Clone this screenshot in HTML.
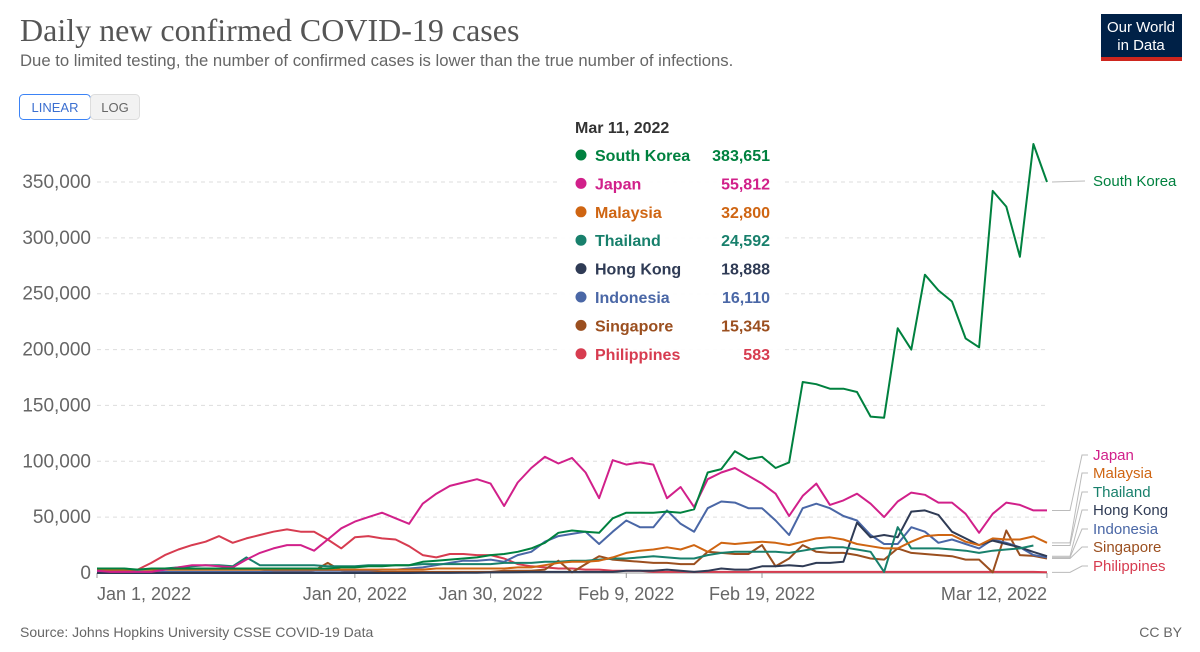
<!DOCTYPE html>
<html><head><meta charset="utf-8"><style>
body{margin:0;background:#fff;width:1200px;height:647px;overflow:hidden;font-family:"Liberation Sans",sans-serif}
svg text{font-family:"Liberation Sans",sans-serif}
</style></head><body>
<svg id="chart" width="1200" height="647" xmlns="http://www.w3.org/2000/svg">
<text x="20" y="41" style="font-family:'Liberation Serif',serif" font-size="32" fill="#555">Daily new confirmed COVID-19 cases</text>
<text x="20" y="66" font-size="16.7" fill="#666">Due to limited testing, the number of confirmed cases is lower than the true number of infections.</text>
<g>
<rect x="1101" y="14" width="81" height="47" fill="#002147"/><rect x="1101" y="57" width="81" height="4" fill="#ce261e"/>
<text x="1141" y="32" font-size="15" fill="#fff" text-anchor="middle">Our World</text>
<text x="1141" y="50" font-size="15" fill="#fff" text-anchor="middle">in Data</text></g>
<g><rect x="19.5" y="94.5" width="71" height="25" rx="4" fill="#fff" stroke="#3b83f6"/><text x="55" y="112" font-size="13" fill="#3b6fd0" text-anchor="middle">LINEAR</text></g>
<g><rect x="90.5" y="94.5" width="49" height="25" rx="4" fill="#f2f2f2" stroke="#ddd"/><text x="115" y="112" font-size="13" fill="#666" text-anchor="middle">LOG</text></g>
<g id="grid"></g><g id="series"></g><g id="labels"></g>
<g id="tip"><rect x="560" y="108" width="222" height="262" fill="#fff" opacity="0.92"/></g>
<text x="20" y="637" font-size="14" fill="#666">Source: Johns Hopkins University CSSE COVID-19 Data</text>
<text x="1182" y="637" font-size="14" fill="#666" text-anchor="end">CC BY</text>
</svg>
<script>
const yTicks=[0,50000,100000,150000,200000,250000,300000,350000];
const xTickDays=[0,19,29,39,49,70];
const xTickLabels=["Jan 1, 2022","Jan 20, 2022","Jan 30, 2022","Feb 9, 2022","Feb 19, 2022","Mar 12, 2022"];
const southKorea=[4,4,4,3,4,4,4,4,4,4,4,4,4,4,4,4,4,4,5,5,6,6,7,7,10,11,12,13,14,16,17,19,22,27,36,38,37,36,49,54,54,54,55,54,57,90,93,109,102,104,94,99,171,169,165,165,162,140,139,219,200,267,253,243,210,202,342,328,283,384,350];
const japan=[2,1,1,1,1,3,5,7,7,6,5,12,18,22,25,25,20,30,40,46,50,54,49,44,62,71,78,81,84,80,60,81,94,104,98,103,90,67,101,97,99,97,67,77,59,84,90,94,87,80,71,51,69,80,61,65,71,62,50,64,72,70,63,63,53,36,53,63,61,56,56];
const malaysia=[3,3,3,3,3,3,3,3,3,3,3,3,3,3,3,3,3,3,3,3,3,3,3,3,3,4,4,4,4,4,4,5,5,7,9,10,10,11,14,18,20,21,23,21,25,19,27,26,27,28,27,25,28,31,32,30,26,24,22,22,28,33,34,34,28,25,31,30,30,32.8,27];
const thailand=[3,3,3,3,3,4,5,6,7,7,6,14,7,7,7,7,7,6,6,6,7,7,7,7,8,8,8,8,8,8,9,9,9,10,10,11,11,12,13,13,14,15,14,13,13,16,18,19,19,19,19,18,20,22,23,23,21,19,1,41,22,22,22,21,20,18,20,21,22,24.6,null];
const hongKong=[0,0,0,0,0,0,0,0,0,0,0,0,0,0,0,0,0,0,0,0,0,0,0,0,0.1,0.1,0.1,0.2,0.3,0.5,0.6,0.8,1,1,1,1,1,1,1,2,2,2,3,2,1,2,4,3,3,6,6,7,6,9,9,10,45,32,34,32,55,56,52,37,31,25,29,26,23,18.9,15];
const indonesia=[1,1,1,1,1,1,1,1,1,1,1,1,1,2,2,2,2,2,2,2,2,3,3,4,5,7,9,11,11,12,10,16,19,28,33,35,37,26,37,47,41,41,56,44,37,58,64,63,58,58,47,34,58,62,58,51,47,34,26,26,41,37,27,30,26,22,30,27,23,16.1,14];
const singapore=[1,1,1,1,1,1,1,1,1,1,1,1,1,1,1,1,2,9,2,1,1,1,1,1,1,1,1,1,1,1,2,2,2,3,11,0.5,8,15,12,11,10,9,9,8,8,19,18,17,17,25,6,13,25,19,18,18,16,13,12,22,18,17,16,15,12,12,0.5,38,16,15.3,13];
const philippines=[2,2,2,3,9,16,21,25,28,33,27,31,34,37,39,37,37,30,22,32,33,31,30,24,16,14,17,17,16,16,13,8,6,5,4,4,3,3,2,2,2,1,1,1,1,1,1,1,1,1,1,1,1,1,1,1,1,1,1,1,1,1,1,1,1,1,1,1,1,1,0.6];
const seriesNames=["Philippines","Singapore","Indonesia","Hong Kong","Thailand","Malaysia","Japan","South Korea"];
const tipNames=["South Korea","Japan","Malaysia","Thailand","Hong Kong","Indonesia","Singapore","Philippines"];
const tipValues=["383,651","55,812","32,800","24,592","18,888","16,110","15,345","583"];
const NS="http://www.w3.org/2000/svg";
const colors={"South Korea":"#00813f","Japan":"#d1208a","Malaysia":"#cf6512","Thailand":"#18806c","Hong Kong":"#2f3b55","Indonesia":"#4a67a6","Singapore":"#9b4f1f","Philippines":"#d73c50"};
const data={"South Korea":southKorea,"Japan":japan,"Malaysia":malaysia,"Thailand":thailand,"Hong Kong":hongKong,"Indonesia":indonesia,"Singapore":singapore,"Philippines":philippines};
const X0=97,X1=1047,NDAYS=70,Y0=573,Y350=182;
function xs(d){return X0+(X1-X0)*d/NDAYS;}
function ys(v){return Y0-(Y0-Y350)*v/350000;}
function mk(tag,attrs,parent){const e=document.createElementNS(NS,tag);for(const k in attrs)e.setAttribute(k,attrs[k]);parent.appendChild(e);return e;}
const grid=document.getElementById('grid');
yTicks.forEach(t=>{
 if(t>0){const l=mk('line',{x1:X0,x2:X1,y1:ys(t),y2:ys(t),stroke:'#ddd','stroke-dasharray':'4,4'},grid);
 
 }
 const tx=mk('text',{x:91,y:ys(t)+6,'font-size':19,fill:'#666','text-anchor':'end'},grid);tx.textContent=t.toLocaleString('en-US');
 
 
});
const ax=mk('line',{x1:X0,x2:X1,y1:Y0,y2:Y0,stroke:'#999'},grid);


xTickDays.forEach((d,i)=>{
 const tk=mk('line',{x1:xs(d),x2:xs(d),y1:Y0,y2:Y0+5,stroke:'#999'},grid);
 
 
 const anchor=i==0?'start':(i==xTickDays.length-1?'end':'middle');
 const tx=mk('text',{x:xs(d),y:600,'font-size':18,fill:'#666','text-anchor':anchor},grid);tx.textContent=xTickLabels[i];
 
 
});
const sg=document.getElementById('series');
seriesNames.forEach(n=>{
 let d='';data[n].forEach((v,i)=>{if(v===null)return;d+=(d?'L':'M')+xs(i).toFixed(1)+','+ys(v*1000).toFixed(1);});
 const p=mk('path',{d:d,fill:'none',stroke:colors[n],'stroke-width':2,'stroke-linejoin':'round'},sg);
 
 
});
const lg=document.getElementById('labels');
const labelY={"South Korea":181,"Japan":455,"Malaysia":473,"Thailand":492,"Hong Kong":510,"Indonesia":529,"Singapore":547,"Philippines":566};
tipNames.forEach(n=>{
 const arr=data[n];let li=arr.length-1;while(arr[li]===null)li--;
 const ey=ys(arr[li]*1000),ly=labelY[n];
 const path=n=="South Korea"?`M${X1+5},${ey}L1085,${ly}`:`M${X1+5},${ey}L1070,${ey}L1082,${ly}L1088,${ly}`;
 const c=mk('path',{d:path,fill:'none',stroke:'#bbb','stroke-width':1},lg);
 
 
 const t=mk('text',{x:1093,y:ly+5,'font-size':15,fill:colors[n]},lg);t.textContent=n;
 
 
});
const tip=document.getElementById('tip');
const dt=mk('text',{x:575,y:133,'font-size':16,'font-weight':'bold',fill:'#333'},tip);dt.textContent='Mar 11, 2022';


tipNames.forEach((n,i)=>{
 const y=155+i*28.4;
 const c=mk('circle',{cx:581,cy:y,r:5.5,fill:colors[n]},tip);
 
 
 const t=mk('text',{x:595,y:y+6,'font-size':16,'font-weight':'bold',fill:colors[n]},tip);t.textContent=n;
 
 
 const v=mk('text',{x:770,y:y+6,'font-size':16,'font-weight':'bold',fill:colors[n],'text-anchor':'end'},tip);v.textContent=tipValues[i];
 
 
});
</script>
</body></html>
